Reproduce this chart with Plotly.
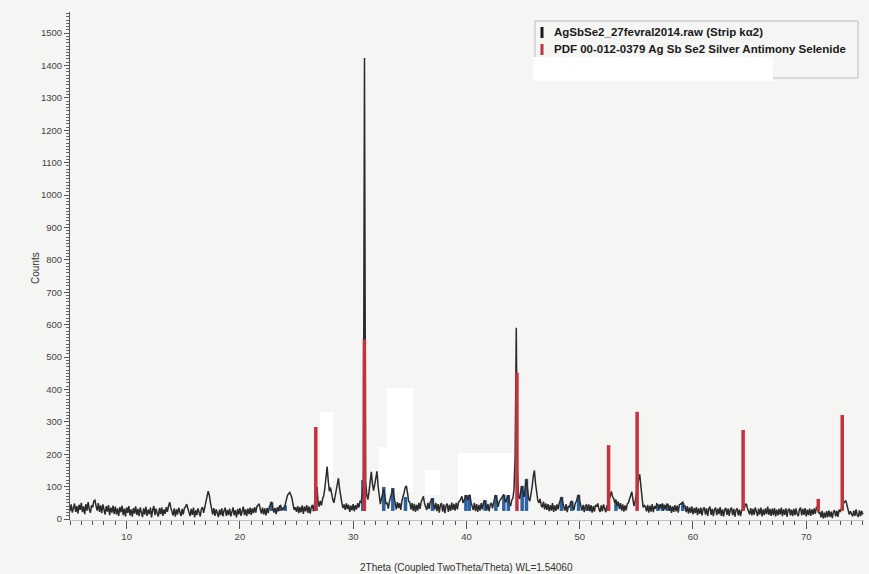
import numpy as np
import plotly.graph_objects as go

# ---------------------------------------------------------------------------
# Measured scan: AgSbSe2_27fevral2014.raw (Strip k-alpha2), 2theta 5..75 deg
# ---------------------------------------------------------------------------
scan_start = 5.0
scan_step = 0.1

counts = [
    # 5.0 - 6.9
    24, 45, 20, 38, 48, 22, 40, 17, 44, 28, 50, 21, 39, 15, 46, 26, 52, 30, 19, 42,
    # 7.0 - 8.9
    36, 55, 58, 41, 26, 49, 22, 42, 18, 45, 27, 14, 40, 23, 43, 12, 35, 20, 41, 16,
    # 9.0 - 10.9
    38, 14, 33, 10, 37, 21, 41, 12, 32, 8, 36, 19, 40, 11, 30, 7, 34, 17, 39, 13,
    # 11.0 - 12.9
    31, 9, 36, 16, 6, 33, 14, 38, 10, 29, 15, 35, 5, 28, 40, 12, 32, 17, 8, 34,
    # 13.0 - 14.9
    15, 36, 10, 30, 16, 37, 22, 40, 52, 35, 18, 11, 33, 7, 30, 14, 35, 17, 9, 31,
    # 15.0 - 16.9
    14, 34, 38, 46, 30, 15, 9, 31, 13, 35, 5, 27, 12, 33, 16, 8, 31, 37, 19, 40,
    # 17.0 - 18.9
    48, 70, 86, 74, 50, 28, 14, 34, 10, 30, 15, 6, 29, 12, 33, 8, 26, 35, 10, 28,
    # 19.0 - 20.9
    12, 32, 8, 29, 36, 11, 27, 5, 31, 14, 34, 10, 28, 38, 12, 30, 9, 32, 15, 35,
    # 21.0 - 22.9
    13, 33, 18, 37, 20, 39, 42, 47, 30, 17, 35, 14, 33, 11, 34, 18, 37, 44, 53, 34,
    # 23.0 - 24.9
    20, 34, 15, 36, 24, 40, 42, 26, 35, 30, 48, 60, 73, 78, 82, 74, 64, 44, 28, 36,
    # 25.0 - 26.9
    22, 40, 18, 37, 21, 42, 16, 38, 24, 43, 19, 39, 17, 35, 44, 24, 46, 64, 98, 56,
    # 27.0 - 28.9
    38, 56, 42, 62, 72, 95, 130, 162, 118, 86, 97, 76, 60, 50, 72, 90, 116, 126, 94, 64,
    # 29.0 - 30.9
    50, 34, 45, 28, 48, 31, 44, 22, 41, 27, 46, 24, 43, 30, 49, 35, 54, 52, 74, 100,
    # 31.0 - 32.9
    1423, 118, 74, 60, 84, 116, 146, 110, 88, 106, 132, 147, 102, 68, 46, 64, 80, 92, 70, 46,
    # 33.0 - 34.9
    50, 32, 54, 70, 86, 94, 70, 46, 30, 52, 34, 49, 28, 55, 66, 82, 98, 102, 80, 54,
    # 35.0 - 36.9
    52, 30, 49, 25, 47, 22, 44, 26, 50, 31, 52, 62, 70, 48, 34, 28, 50, 31, 52, 58,
    # 37.0 - 38.9
    64, 44, 30, 50, 24, 46, 20, 43, 49, 23, 45, 18, 41, 48, 22, 44, 25, 51, 28, 47,
    # 39.0 - 40.9
    26, 50, 30, 52, 55, 62, 70, 50, 60, 68, 74, 58, 70, 75, 52, 36, 28, 50, 24, 46,
    # 41.0 - 42.9
    22, 44, 26, 49, 30, 50, 58, 42, 27, 47, 24, 44, 50, 33, 55, 66, 74, 56, 38, 54,
    # 43.0 - 44.9
    60, 66, 72, 76, 56, 52, 68, 73, 48, 40, 58, 64, 92, 190, 590, 150, 70, 62, 86, 102,
    # 45.0 - 46.9
    80, 68, 100, 124, 92, 62, 55, 76, 100, 132, 150, 110, 78, 58, 50, 62, 42, 36, 54, 30,
    # 47.0 - 48.9
    48, 28, 46, 24, 43, 26, 49, 22, 42, 25, 45, 30, 50, 58, 68, 50, 34, 26, 46, 21,
    # 49.0 - 50.9
    40, 36, 52, 56, 38, 28, 48, 54, 66, 75, 56, 36, 26, 44, 21, 41, 44, 27, 45, 24,
    # 51.0 - 52.9
    43, 20, 40, 23, 44, 38, 48, 30, 22, 42, 24, 45, 27, 21, 40, 46, 60, 78, 85, 68,
    # 53.0 - 54.9
    64, 50, 60, 40, 54, 31, 49, 26, 45, 23, 42, 27, 46, 50, 62, 78, 84, 60, 40, 55,
    # 55.0 - 56.9
    72, 98, 122, 138, 102, 62, 36, 42, 38, 24, 44, 20, 41, 23, 46, 21, 40, 32, 47, 44,
    # 57.0 - 58.9
    30, 46, 33, 48, 26, 44, 29, 46, 45, 25, 42, 19, 39, 22, 43, 24, 41, 20, 44, 46,
    # 59.0 - 60.9
    50, 52, 38, 40, 21, 40, 17, 36, 19, 39, 14, 34, 18, 37, 12, 33, 16, 35, 11, 31,
    # 61.0 - 62.9
    36, 14, 33, 10, 32, 38, 13, 31, 9, 30, 35, 12, 32, 15, 37, 10, 30, 8, 29, 34,
    # 63.0 - 64.9
    13, 32, 10, 30, 35, 12, 31, 7, 28, 33, 11, 29, 9, 27, 32, 30, 42, 47, 34, 20,
    # 65.0 - 66.9
    14, 34, 11, 31, 13, 36, 16, 9, 32, 14, 35, 8, 30, 12, 33, 15, 38, 13, 31, 10,
    # 67.0 - 68.9
    32, 12, 34, 8, 29, 11, 31, 14, 35, 9, 30, 13, 33, 7, 28, 32, 11, 29, 9, 31,
    # 69.0 - 70.9
    12, 33, 15, 9, 30, 35, 11, 31, 13, 34, 8, 29, 12, 32, 10, 30, 14, 33, 16, 36,
    # 71.0 - 72.9
    34, 18, 22, 5, 25, 2, 20, 4, 24, 6, 26, 7, 23, 3, 22, 27, 8, 25, 7, 29,
    # 73.0 - 74.9
    22, 36, 42, 49, 55, 57, 42, 26, 14, 24, 17, 8, 26, 10, 30, 12, 7, 27, 9, 25,
    # 75.0
    14,
]
two_theta = np.round(scan_start + scan_step * np.arange(len(counts)), 2)

# PDF 00-012-0379  Ag Sb Se2  Silver Antimony Selenide (stick pattern)
pdf_pos = [26.70, 30.99, 44.46, 52.55, 55.07, 64.43, 71.06, 73.18]
pdf_int = [284, 555, 452, 228, 331, 275, 62, 321]

# secondary reference phase (blue sticks)
sec_pos = [22.80, 23.55, 24.00, 26.72, 30.85, 32.70, 33.50, 34.62, 37.00,
           39.95, 40.25, 41.65, 42.60, 43.30, 43.70, 44.92, 45.30, 48.40,
           49.30, 49.90, 50.65, 50.95, 53.20, 56.90, 57.30, 57.75, 59.10]
sec_int = [52, 38, 42, 99, 120, 99, 96, 68, 65,
           74, 74, 58, 74, 74, 74, 102, 123, 68,
           55, 74, 36, 36, 50, 43, 45, 43, 49]

stick_base = 25

x_ticks = [10, 20, 30, 40, 50, 60, 70]
y_ticks = list(range(0, 1501, 100))

legend_labels = ["AgSbSe2_27fevral2014.raw (Strip k\u03b12)",
                 "PDF 00-012-0379 Ag Sb Se2 Silver Antimony Selenide"]

FONT = "Arial, 'Liberation Sans', sans-serif"
BG = "#f5f5f3"
W, H = 869, 574
ML, MR, MT, MB = 70, 5, 12, 54
PW, PH = W - ML - MR, H - MT - MB


def px_x(px):
    return (px - ML) / PW


def px_y(py):
    return (H - MB - py) / PH


def sticks(pos, heights, base):
    xs, ys = [], []
    for p, h in zip(pos, heights):
        xs += [p, p, None]
        ys += [base, h, None]
    return xs, ys


fig = go.Figure()

sx, sy = sticks(sec_pos, sec_int, stick_base)
fig.add_trace(go.Scatter(x=sx, y=sy, mode="lines", line=dict(color="#2d62a6", width=3.5),
                         hoverinfo="skip", showlegend=False))

fig.add_trace(go.Scatter(x=two_theta, y=counts, mode="lines",
                         line=dict(color="#2b2b2b", width=1.5),
                         name=legend_labels[0], showlegend=False))

px_, py_ = sticks(pdf_pos, pdf_int, stick_base)
fig.add_trace(go.Scatter(x=px_, y=py_, mode="lines", line=dict(color="#c3333f", width=3.5),
                         name=legend_labels[1], showlegend=False))

shapes = []
# lighter paper patches on the scanned sheet
for x0, y0, x1, y1 in [(320, 412, 333, 488), (387, 388, 413, 492), (379, 447, 387, 492),
                       (425, 470, 440, 495), (458, 453, 513, 498)]:
    shapes.append(dict(type="rect", xref="paper", yref="paper",
                       x0=px_x(x0), x1=px_x(x1), y0=px_y(y1), y1=px_y(y0),
                       fillcolor="#ffffff", line=dict(width=0), layer="below"))

# legend frame, swatches and the blank strip over its third row
shapes.append(dict(type="rect", xref="paper", yref="paper",
                   x0=px_x(535), x1=px_x(858), y0=px_y(78), y1=px_y(21),
                   fillcolor=BG, line=dict(color="#b4bec6", width=1), layer="above"))
shapes.append(dict(type="rect", xref="paper", yref="paper",
                   x0=px_x(533), x1=px_x(773), y0=px_y(81), y1=px_y(57),
                   fillcolor="#ffffff", line=dict(width=0), layer="above"))
shapes.append(dict(type="rect", xref="paper", yref="paper",
                   x0=px_x(540.5), x1=px_x(543.5), y0=px_y(38), y1=px_y(27),
                   fillcolor="#1a1a1a", line=dict(width=0), layer="above"))
shapes.append(dict(type="rect", xref="paper", yref="paper",
                   x0=px_x(540.5), x1=px_x(543.5), y0=px_y(55), y1=px_y(44),
                   fillcolor="#c3333f", line=dict(width=0), layer="above"))

annotations = [
    dict(text="<b>%s</b>" % legend_labels[0], xref="paper", yref="paper", x=px_x(552), y=px_y(32),
         xanchor="left", yanchor="middle", showarrow=False,
         font=dict(family=FONT, size=11.5, color="#1a1a1a")),
    dict(text="<b>%s</b>" % legend_labels[1], xref="paper", yref="paper", x=px_x(552), y=px_y(49),
         xanchor="left", yanchor="middle", showarrow=False,
         font=dict(family=FONT, size=11.5, color="#1a1a1a")),
    dict(text="2Theta (Coupled TwoTheta/Theta) WL=1.54060", xref="paper", yref="paper",
         x=px_x(466), y=px_y(567), xanchor="center", yanchor="middle", showarrow=False,
         font=dict(family=FONT, size=10, color="#333333")),
    dict(text="Counts", xref="paper", yref="paper", x=px_x(35), y=px_y(268),
         xanchor="center", yanchor="middle", showarrow=False, textangle=-90,
         font=dict(family=FONT, size=10, color="#333333")),
]

fig.update_layout(
    width=W, height=H,
    margin=dict(l=ML, r=MR, t=MT, b=MB),
    paper_bgcolor=BG, plot_bgcolor=BG,
    showlegend=False,
    shapes=shapes,
    annotations=annotations,
    xaxis=dict(range=[5, 75.1], showgrid=False, zeroline=False,
               showline=True, linecolor="#c4c4c4", linewidth=1,
               tickvals=x_ticks, ticks="outside", ticklen=8, tickwidth=1, tickcolor="#555555",
               minor=dict(dtick=1, ticks="outside", ticklen=4, tickwidth=1, tickcolor="#555555"),
               tickfont=dict(family=FONT, size=9.5, color="#444444")),
    yaxis=dict(range=[-3, 1565], showgrid=False, zeroline=False,
               showline=True, linecolor="#555555", linewidth=1,
               tickvals=y_ticks, ticks="outside", ticklen=5, tickwidth=1, tickcolor="#555555",
               minor=dict(dtick=10, ticks="outside", ticklen=3, tickwidth=1, tickcolor="#666666"),
               tickfont=dict(family=FONT, size=9.5, color="#444444")),
)

fig.write_html("out.html")
